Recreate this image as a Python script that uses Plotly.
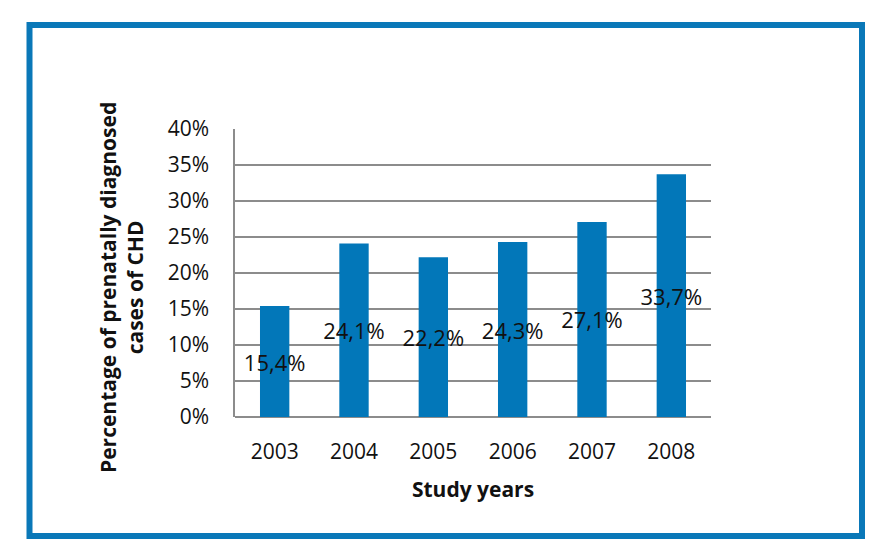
import plotly.graph_objects as go

years = ["2003", "2004", "2005", "2006", "2007", "2008"]
values = [15.4, 24.1, 22.2, 24.3, 27.1, 33.7]
labels = ["15,4%", "24,1%", "22,2%", "24,3%", "27,1%", "33,7%"]
y_ticks = [0, 5, 10, 15, 20, 25, 30, 35, 40]
y_tick_text = ["0%", "5%", "10%", "15%", "20%", "25%", "30%", "35%", "40%"]

OFF = 8  # page body margin
W, H = 874, 544
L, R, T, B = 235 - OFF, 711 - OFF, 129 - OFF, 417 - OFF
pw, ph = R - L, B - T

def px(x):
    return (x - OFF - L) / pw

def py(y):
    return (B - (y - OFF)) / ph

blue = "#0a78b8"
grid = "#8c8c8c"
font = "Open Sans"

fig = go.Figure()
fig.add_trace(go.Bar(
    x=years, y=values, marker=dict(color="#0277b9", line=dict(width=0)),
    text=labels, textposition="inside", insidetextanchor="middle",
    textangle=0, constraintext="none",
    textfont=dict(family=font, size=22, color="#111111"),
    hoverinfo="skip",
))

fig.update_layout(
    width=W, height=H,
    margin=dict(l=L, r=W - R, t=T, b=H - B, pad=0),
    paper_bgcolor="white", plot_bgcolor="white",
    bargap=0.63, showlegend=False,
    xaxis=dict(
        type="category", showgrid=False, ticks="", showline=False,
        tickfont=dict(family=font, size=21, color="#111111"),
        ticklabelstandoff=20,
        title=dict(text="<b>Study years</b>", font=dict(family=font, size=21, color="#111111"), standoff=18),
    ),
    yaxis=dict(
        range=[0, 40], tickvals=y_ticks, ticktext=y_tick_text,
        showgrid=True, gridcolor=grid, gridwidth=1.5,
        zeroline=True, zerolinecolor=grid, zerolinewidth=1.5,
        showline=True, linecolor=grid, linewidth=1.5,
        ticks="", tickfont=dict(family=font, size=21, color="#111111"),
        ticklabelstandoff=20,
    ),
    shapes=[dict(
        type="rect", xref="paper", yref="paper",
        x0=px(29.5), x1=px(862), y0=py(536), y1=py(25),
        line=dict(color=blue, width=6), fillcolor="rgba(0,0,0,0)", layer="below",
    )],
    annotations=[dict(
        text="<b>Percentage of prenatally diagnosed</b><br><b>cases of CHD</b>",
        xref="paper", yref="paper", x=px(121), y=py(288),
        xanchor="center", yanchor="middle", textangle=-90, showarrow=False,
        font=dict(family=font, size=21, color="#111111"),
    )],
)

fig.write_html("out.html")
